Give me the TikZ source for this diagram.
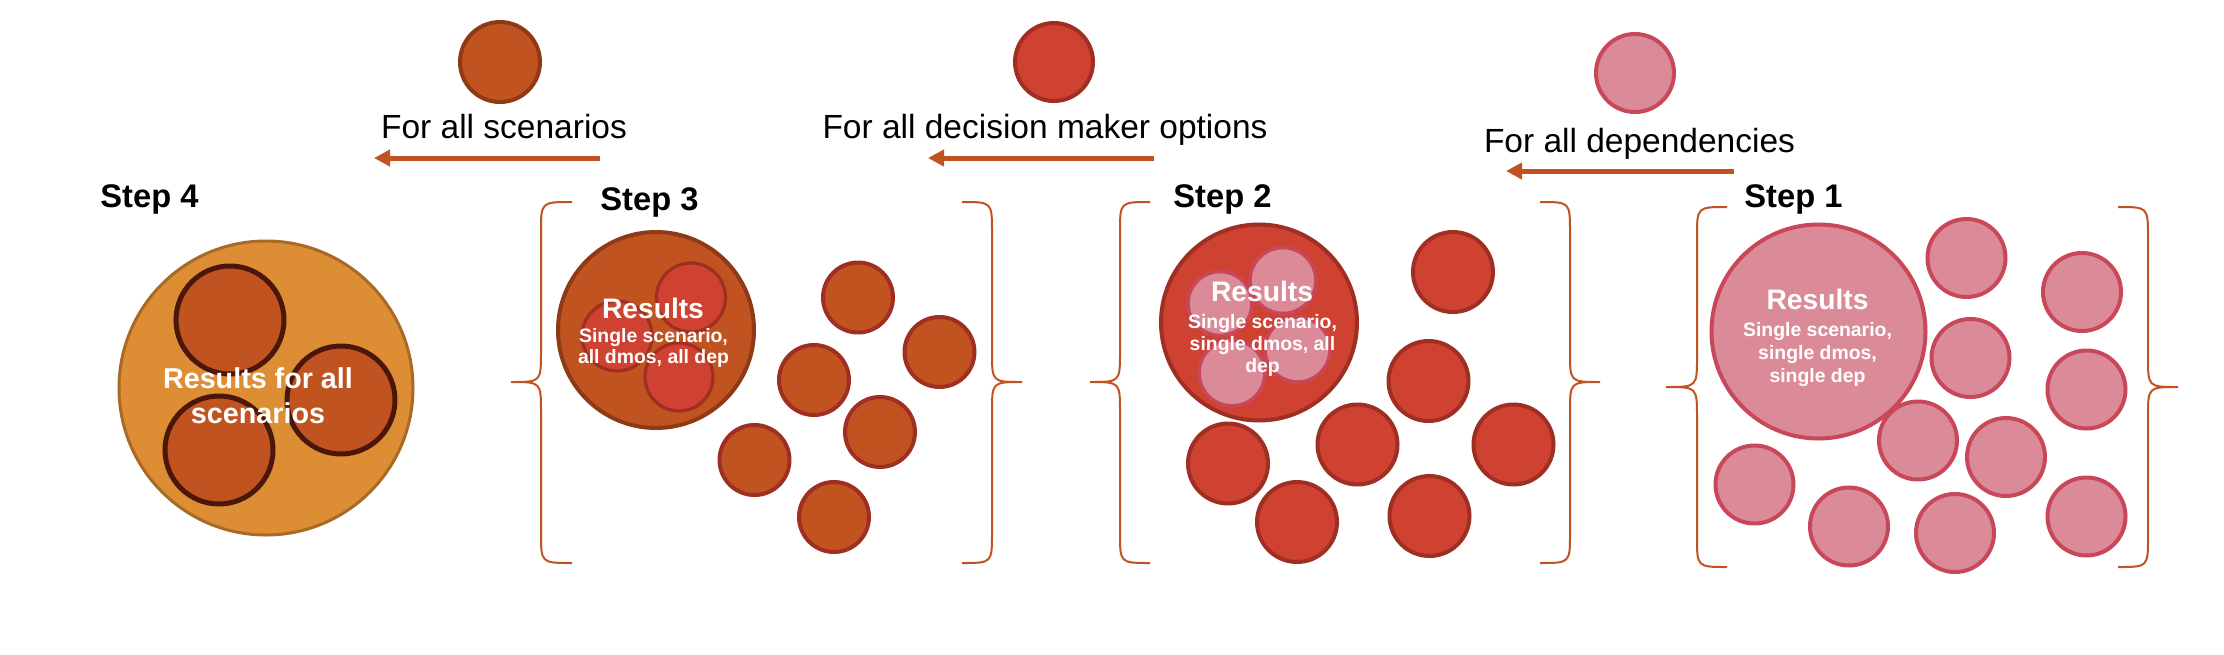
\documentclass[tikz,border=0pt]{standalone}
\usepackage{fontspec}
\setmainfont{Liberation Sans}
\usetikzlibrary{arrows.meta}
\definecolor{orng}{HTML}{DD8E35}
\definecolor{orngline}{HTML}{A96A28}
\definecolor{brwn}{HTML}{C0531F}
\definecolor{brwnline}{HTML}{8E3A17}
\definecolor{dkbrwn}{HTML}{4A170A}
\definecolor{redf}{HTML}{CF4130}
\definecolor{redline}{HTML}{9E2F22}
\definecolor{pinkf}{HTML}{DB8B97}
\definecolor{pinkline}{HTML}{C8485A}
\tikzset{
  ball/.style={circle, inner sep=0pt, outer sep=0pt, minimum size=#1pt},
  s4big/.style={ball=#1, fill=orng, draw=orngline, line width=1.5pt},
  s4in/.style={ball=#1, fill=brwn, draw=dkbrwn, line width=2.5pt},
  brownball/.style={ball=#1, fill=brwn, draw=redline, line width=2pt},
  s3big/.style={ball=#1, fill=brwn, draw=brwnline, line width=2pt},
  redball/.style={ball=#1, fill=redf, draw=redline, line width=2pt},
  s3in/.style={ball=#1, fill=redf, draw=redline, line width=1.6pt},
  pinkball/.style={ball=#1, fill=pinkf, draw=pinkline, line width=2pt},
  s2in/.style={ball=#1, fill=pinkf, draw=pinkline, line width=1.8pt},
  bracestyle/.style={draw=brwn, line width=1pt},
  flowarrow/.style={draw=brwn, line width=2.5pt, -{Triangle[length=8pt,width=8pt]}},
  forlabel/.style={anchor=base, inner sep=0pt, font=\fontsize{16.75}{20}\selectfont},
  steplabel/.style={anchor=base west, inner sep=0pt, font=\bfseries\fontsize{16.35}{19}\selectfont},
  restitle/.style={anchor=base, inner sep=0pt, text=white, font=\bfseries\fontsize{14.1}{17}\selectfont},
  ressub/.style={anchor=base, inner sep=0pt, text=white, align=center, font=\bfseries\fontsize{9.7}{#1}\selectfont},
}
\begin{document}
\begin{tikzpicture}[x=0.5pt,y=-0.5pt]
\useasboundingbox (0,0) rectangle (2224,654);
\fill[white] (0,0) rectangle (2224,654);

% ---- top legend ----
\node[s3big=40, draw=brwnline] (topA) at (500,62) {};
\node[forlabel] (lblA) at (504,138) {For all scenarios};
\coordinate (a1s) at (600,158); \coordinate (a1e) at (374,158);
\draw[flowarrow] (a1s) -- (a1e);

\node[redball=39] (topB) at (1054,62) {};
\node[forlabel] (lblB) at (1045,138) {For all decision maker options};
\coordinate (a2s) at (1154,158); \coordinate (a2e) at (928,158);
\draw[flowarrow] (a2s) -- (a2e);

\node[pinkball=39] (topC) at (1635,73) {};
\node[forlabel] (lblC) at (1639.5,152) {For all dependencies};
\coordinate (a3s) at (1734,171); \coordinate (a3e) at (1506,171);
\draw[flowarrow] (a3s) -- (a3e);

% ---- step labels ----
\node[steplabel] (st4) at (100,207) {Step 4};
\node[steplabel] (st3) at (600,210) {Step 3};
\node[steplabel] (st2) at (1173,207) {Step 2};
\node[steplabel] (st1) at (1744,207) {Step 1};

% ---- Step 4 ----
\node[s4big=147] (b4) at (266,388) {};
\node[s4in=54] (b4a) at (230,320) {};
\node[s4in=54] (b4b) at (341,400) {};
\node[s4in=54] (b4c) at (219,450) {};
\node[restitle, align=center, font=\bfseries\fontsize{14.35}{17.5}\selectfont] (t4) at (258,423) {Results for all\\scenarios};

% ---- Step 3 ----
\draw[bracestyle] (572,202) .. controls (541,202) .. (541,232) -- (541,352) .. controls (541,382) .. (511,382)
  .. controls (541,382) .. (541,412) -- (541,533) .. controls (541,563) .. (572,563);
\draw[bracestyle] (962,202) .. controls (992,202) .. (992,232) -- (992,352) .. controls (992,382) .. (1022,382)
  .. controls (992,382) .. (992,412) -- (992,533) .. controls (992,563) .. (962,563);
\node[s3big=98] (b3) at (656,330) {};
\node[s3in=35] (b3b) at (617,336) {};
\node[s3in=34.5] (b3a) at (691,297.5) {};
\node[s3in=34] (b3c) at (679,377) {};
\node[restitle] (t3) at (653,318) {Results};
\node[ressub=10.5] (t3s) at (653.5,363) {Single scenario,\\all dmos, all dep};
\node[brownball=35] (d3a) at (858,297.5) {};
\node[brownball=35] (d3b) at (939.5,352) {};
\node[brownball=35] (d3c) at (814,380) {};
\node[brownball=35] (d3d) at (880,432) {};
\node[brownball=35] (d3e) at (754.5,460) {};
\node[brownball=35] (d3f) at (834,517) {};

% ---- Step 2 ----
\draw[bracestyle] (1150,202) .. controls (1120,202) .. (1120,232) -- (1120,352) .. controls (1120,382) .. (1090,382)
  .. controls (1120,382) .. (1120,412) -- (1120,533) .. controls (1120,563) .. (1150,563);
\draw[bracestyle] (1540,202) .. controls (1570,202) .. (1570,232) -- (1570,352) .. controls (1570,382) .. (1600,382)
  .. controls (1570,382) .. (1570,412) -- (1570,533) .. controls (1570,563) .. (1540,563);
\node[redball=98] (b2) at (1259,322.5) {};
\node[s2in=32] (b2a) at (1220,303.5) {};
\node[s2in=33] (b2b) at (1283,280.5) {};
\node[s2in=32.5] (b2c) at (1297.5,349.5) {};
\node[s2in=33] (b2d) at (1232,373) {};
\node[restitle] (t2) at (1262,301) {Results};
\node[ressub=11] (t2s) at (1262.5,372) {Single scenario,\\single dmos, all\\dep};
\node[redball=40] (d2a) at (1453,272) {};
\node[redball=40] (d2b) at (1428.5,381) {};
\node[redball=40] (d2c) at (1357.5,444.5) {};
\node[redball=40] (d2d) at (1513.5,444.5) {};
\node[redball=40] (d2e) at (1228,463.5) {};
\node[redball=40] (d2f) at (1297,522) {};
\node[redball=40] (d2g) at (1429.5,516) {};

% ---- Step 1 ----
\draw[bracestyle] (1727,207) .. controls (1697,207) .. (1697,237) -- (1697,357) .. controls (1697,387) .. (1666,387)
  .. controls (1697,387) .. (1697,417) -- (1697,537) .. controls (1697,567) .. (1727,567);
\draw[bracestyle] (2118,207) .. controls (2148,207) .. (2148,237) -- (2148,357) .. controls (2148,387) .. (2178,387)
  .. controls (2148,387) .. (2148,417) -- (2148,537) .. controls (2148,567) .. (2118,567);
\node[pinkball=107] (b1) at (1818.5,331.5) {};
\node[restitle] (t1) at (1817.5,309) {Results};
\node[ressub=11.5] (t1s) at (1817.5,382) {Single scenario,\\single dmos,\\single dep};
\node[pinkball=39] (d1a) at (1966.5,258) {};
\node[pinkball=39] (d1b) at (2082,292) {};
\node[pinkball=39] (d1c) at (1970.5,358) {};
\node[pinkball=39] (d1d) at (2086.5,389.5) {};
\node[pinkball=39] (d1e) at (1918,440.5) {};
\node[pinkball=39] (d1f) at (2006,457) {};
\node[pinkball=39] (d1g) at (1754.5,484.5) {};
\node[pinkball=39] (d1h) at (1849,526.5) {};
\node[pinkball=39] (d1i) at (1955,533) {};
\node[pinkball=39] (d1j) at (2086.5,516.5) {};
\end{tikzpicture}
\end{document}
